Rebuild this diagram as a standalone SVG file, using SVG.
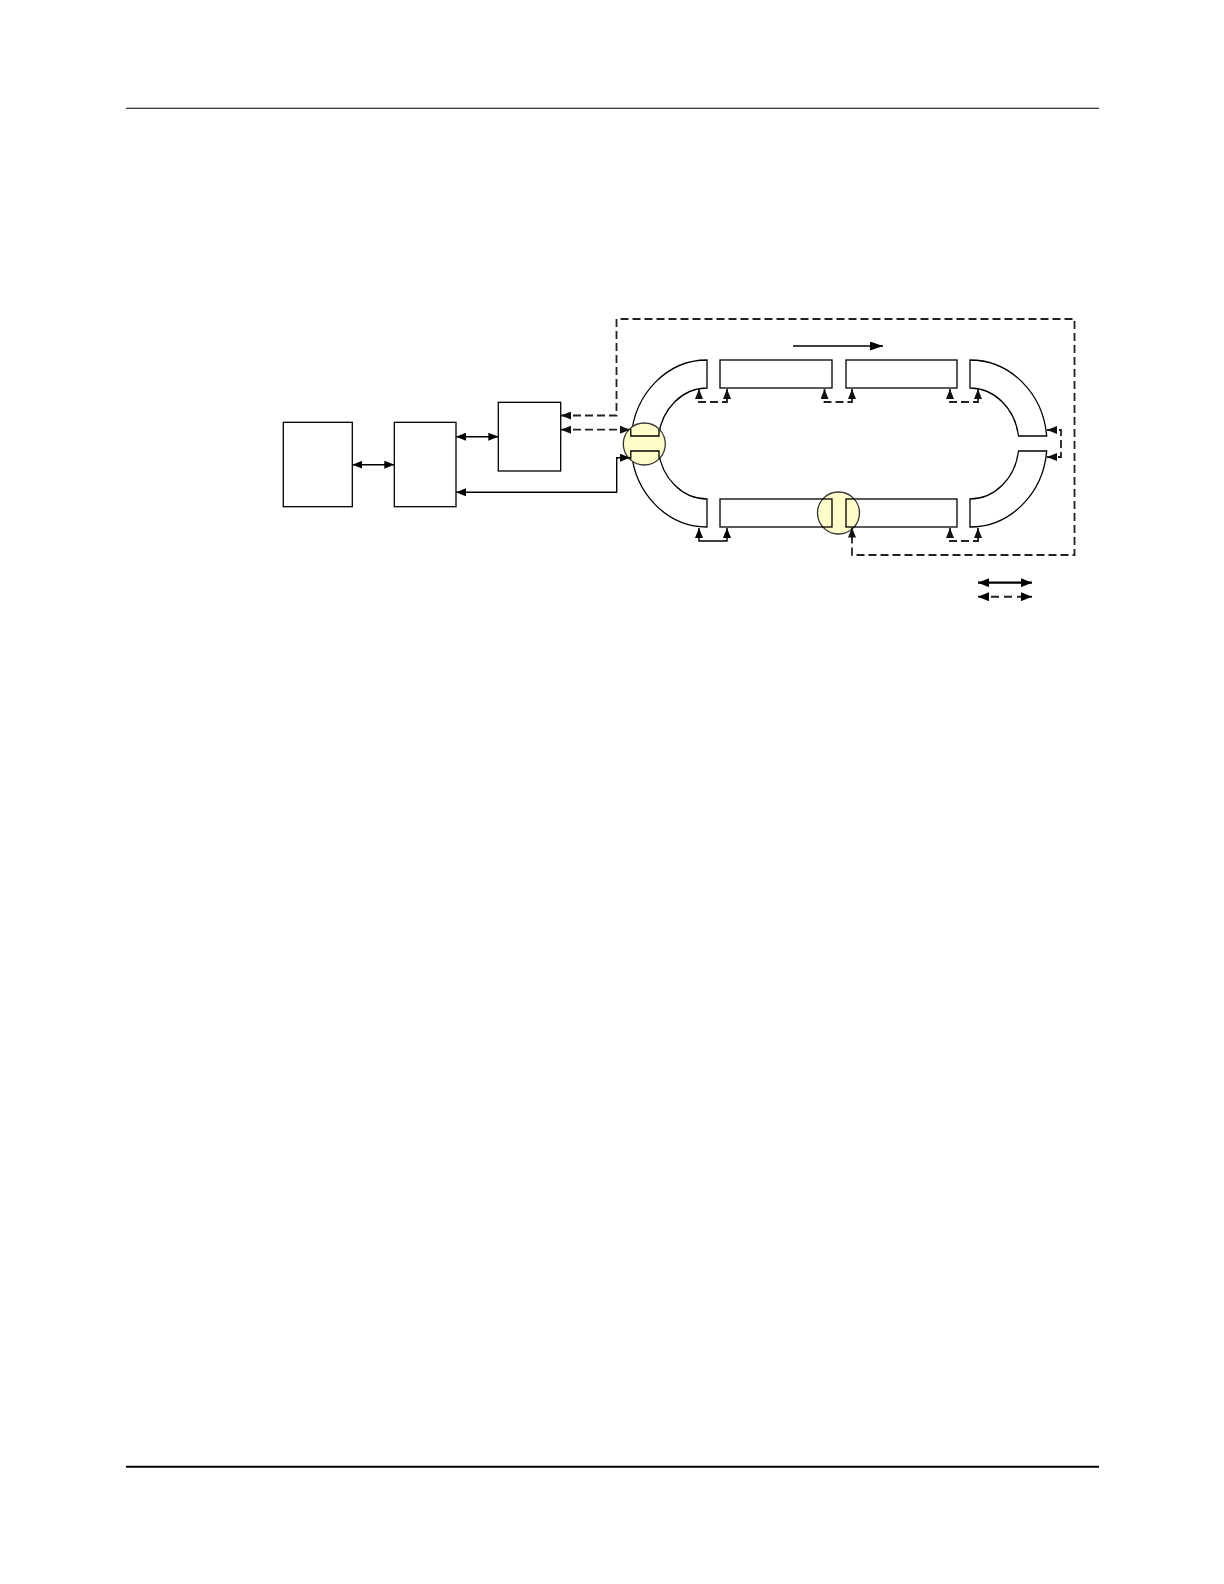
<svg xmlns="http://www.w3.org/2000/svg" width="1224" height="1584" viewBox="0 0 1224 1584">
<style>
.box{fill:#fff;stroke:#000;stroke-width:1.3}
.seg{fill:none;stroke:#000;stroke-width:1.3}
.hl{fill:#FFFDC8;stroke:#333;stroke-width:1.3}
.s{fill:none;stroke:#000;stroke-width:1.4}
.d{fill:none;stroke:#222;stroke-width:1.8;stroke-dasharray:8 4}
.ls{fill:none;stroke:#000;stroke-width:2.2}
.ld{fill:none;stroke:#222;stroke-width:2;stroke-dasharray:8 5}
.rule{stroke:#000;fill:none}
</style>
<defs>
<marker id="a" viewBox="0 0 10 8" refX="10" refY="4" markerWidth="10" markerHeight="8" markerUnits="userSpaceOnUse" orient="auto-start-reverse"><path d="M0,0 L10,4 L0,8 Z" fill="#000"/></marker>
<marker id="ad" viewBox="0 0 10 8" refX="10" refY="4" markerWidth="10" markerHeight="8" markerUnits="userSpaceOnUse" orient="auto-start-reverse"><path d="M0,0 L10,4 L0,8 Z" fill="#111"/></marker>
<marker id="ab" viewBox="0 0 13 9" refX="13" refY="4.5" markerWidth="13" markerHeight="9" markerUnits="userSpaceOnUse" orient="auto-start-reverse"><path d="M0,0 L13,4.5 L0,9 Z" fill="#000"/></marker>
<marker id="al" viewBox="0 0 11 9" refX="11" refY="4.5" markerWidth="11" markerHeight="9" markerUnits="userSpaceOnUse" orient="auto-start-reverse"><path d="M0,0 L11,4.5 L0,9 Z" fill="#000"/></marker>
</defs>
<rect width="1224" height="1584" fill="#fff"/>
<g id="page-rules">
<line class="rule" x1="126" y1="108.3" x2="1099" y2="108.3" stroke-width="1.1"/>
<line class="rule" x1="126" y1="1466.7" x2="1099" y2="1466.7" stroke-width="2"/>
</g>
<g id="box1"><rect class="box" x="283.3" y="422.3" width="69" height="84.4"/></g>
<g id="box2"><rect class="box" x="394.3" y="422.3" width="61.7" height="84.4"/></g>
<g id="box3"><rect class="box" x="498.3" y="402.3" width="62.4" height="68.7"/></g>
<g id="left-bend">
<path class="seg" d="M707,360 A76,83.5 0 0 0 631.3,436 L658.5,436 A49,55.5 0 0 1 707,388 Z"/>
<path class="seg" d="M631.3,451 A76,83.5 0 0 0 707,527 L707,499 A49,55.5 0 0 1 658.5,451 Z"/>
</g>
<g id="left-joint">
<circle class="hl" cx="644.3" cy="444" r="21"/>
<path class="seg" d="M630.8,428.6 L630.8,436 L659,436 L659,429.2"/>
<path class="seg" d="M630.8,459.4 L630.8,451 L659,451 L659,458.8"/>
</g>
<g id="right-bend">
<path class="seg" d="M970,360 A77,83.5 0 0 1 1046.7,436 L1018.5,436 A49,55.5 0 0 0 970,388 Z"/>
<path class="seg" d="M1046.7,451 A77,83.5 0 0 1 970,527 L970,499 A49,55.5 0 0 0 1018.5,451 Z"/>
</g>
<g id="top-segment-1"><rect class="seg" x="720" y="360" width="112" height="28"/></g>
<g id="top-segment-2"><rect class="seg" x="846" y="360" width="111" height="28"/></g>
<g id="bottom-joint"><circle class="hl" cx="838.5" cy="513" r="21"/></g>
<g id="bottom-segment-1"><rect class="seg" x="720" y="499" width="112" height="28"/></g>
<g id="bottom-segment-2"><rect class="seg" x="846" y="499" width="111" height="28"/></g>
<g id="connectors">
<path class="s" d="M352.3,464.7 L394.3,464.7" marker-start="url(#a)" marker-end="url(#a)"/>
<path class="s" d="M456,436.7 L498.3,436.7" marker-start="url(#a)" marker-end="url(#a)"/>
<path class="s" d="M456,492.3 L616.7,492.3 L616.7,457.7 L630,457.7" marker-start="url(#a)" marker-end="url(#a)"/>
<path class="d" d="M561,429.7 L630,429.7" marker-start="url(#ad)" marker-end="url(#ad)"/>
<path class="d" d="M561,415.5 L616.5,415.5 L616.5,319 L1074.5,319 L1074.5,555 L852,555 L852,527.5" marker-start="url(#ad)" marker-end="url(#ad)"/>
<path class="d" d="M699,389 L699,402 L727,402 L727,389" marker-start="url(#ad)" marker-end="url(#ad)"/>
<path class="d" d="M824.5,389 L824.5,402 L852,402 L852,389" marker-start="url(#ad)" marker-end="url(#ad)"/>
<path class="d" d="M950,389 L950,402 L978,402 L978,389" marker-start="url(#ad)" marker-end="url(#ad)"/>
<path class="s" d="M699,528 L699,541 L727,541 L727,528" marker-start="url(#a)" marker-end="url(#a)"/>
<path class="d" d="M950,528 L950,541 L978,541 L978,528" marker-start="url(#ad)" marker-end="url(#ad)"/>
<path class="d" d="M1047,430 L1061,430 L1061,457 L1047,457" marker-start="url(#ad)" marker-end="url(#ad)"/>
<path class="s" d="M793,346 L883,346" marker-end="url(#ab)"/>
</g>
<g id="legend">
<path class="ls" d="M978,582.7 L1032,582.7" marker-start="url(#al)" marker-end="url(#al)"/>
<path class="ld" d="M978,596.7 L1032,596.7" marker-start="url(#al)" marker-end="url(#al)"/>
</g>
</svg>
